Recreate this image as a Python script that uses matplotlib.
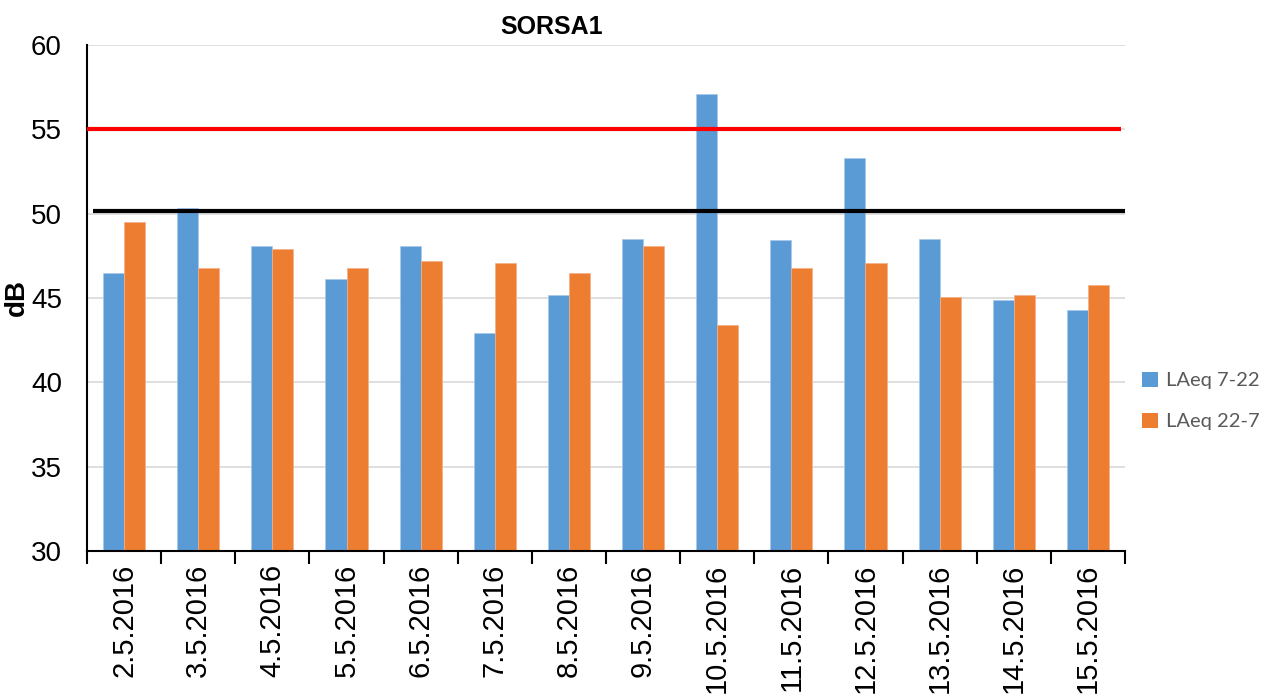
import matplotlib
matplotlib.use("Agg")
import matplotlib.pyplot as plt
import numpy as np
from matplotlib.patches import Patch

dates = ["2.5.2016", "3.5.2016", "4.5.2016", "5.5.2016", "6.5.2016", "7.5.2016",
         "8.5.2016", "9.5.2016", "10.5.2016", "11.5.2016", "12.5.2016", "13.5.2016",
         "14.5.2016", "15.5.2016"]
laeq_day = [46.5, 50.35, 48.1, 46.1, 48.1, 42.9, 45.15, 48.5, 57.1, 48.45, 53.3, 48.5, 44.9, 44.3]
laeq_night = [49.5, 46.75, 47.9, 46.75, 47.2, 47.1, 46.5, 48.1, 43.4, 46.75, 47.05, 45.05, 45.15, 45.8]
limit_red = 55.0
limit_black = 50.15
series_names = ["LAeq 7-22", "LAeq 22-7"]
title = "SORSA1"
ylabel = "dB"

blue = "#5B9BD5"
orange = "#ED7D31"

fig = plt.figure(figsize=(12.68, 6.97), dpi=100)
ax = fig.add_axes([87/1268, 1-551/697, (1125-87)/1268, (551-45)/697])

x = np.arange(len(dates))
w = 0.285
ax.bar(x - w/2, laeq_day, width=w, color=blue, edgecolor="#a9c8ea", linewidth=0.5, zorder=2)
ax.bar(x + w/2, laeq_night, width=w, color=orange, edgecolor="#f3b08a", linewidth=0.5, zorder=2)

ax.plot([-0.5, 13.45], [limit_red, limit_red], color="#FF0000", lw=3, zorder=3, solid_capstyle="butt")
ax.plot([-0.42, 13.5], [limit_black, limit_black], color="#000000", lw=3, zorder=3, solid_capstyle="butt")

ax.set_xlim(-0.5, len(dates) - 0.5)
ax.set_ylim(30, 60)
ax.set_yticks(np.arange(30, 61, 5))
ax.yaxis.grid(True, color="#d9d9d9", lw=1.2, zorder=0)
ax.set_axisbelow(True)

ax.set_xticks(np.arange(-0.5, len(dates), 1.0))
ax.set_xticklabels([])
ax.set_xticks(x, minor=True)
ax.set_xticklabels(dates, minor=True, rotation=90, fontsize=21,
                   family="Liberation Sans", color="#000000")
ax.tick_params(axis="x", which="major", length=9, width=1.5, direction="out", color="black")
ax.tick_params(axis="x", which="minor", length=0, pad=9)
ax.tick_params(axis="y", length=0, labelsize=20, pad=18, labelcolor="black")
for lab in ax.get_yticklabels():
    lab.set_family("Liberation Sans")

for s in ["top", "right"]:
    ax.spines[s].set_visible(False)
ax.spines["left"].set_linewidth(1.5)
ax.spines["bottom"].set_linewidth(1.5)

ax.set_title(title, fontsize=18, fontweight="bold", family="Liberation Sans", pad=8,
             x=(552-87)/1038)
ax.set_ylabel(ylabel, fontsize=20, fontweight="bold", family="Liberation Sans")
ax.yaxis.set_label_coords(-(87-30)/1038, 0.5)

handles = [Patch(facecolor=blue), Patch(facecolor=orange)]
fig.legend(handles, series_names, loc="center left", bbox_to_anchor=(1124/1268, 1-401/697),
           frameon=False, handlelength=0.8, handleheight=0.8, handletextpad=0.4,
           labelspacing=1.15, prop={"family": "Lato", "size": 14.5}, labelcolor="#595959")

fig.savefig("out.png", dpi=100)
